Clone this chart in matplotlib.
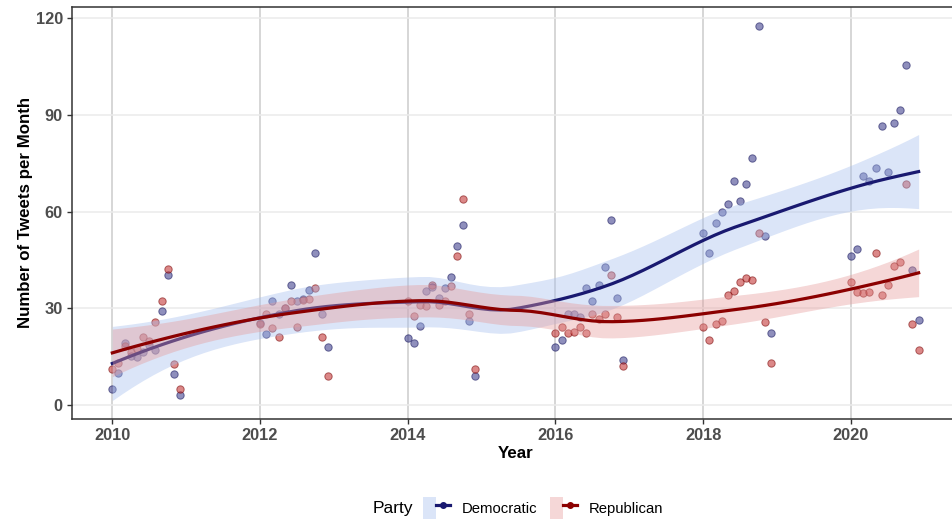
import matplotlib
matplotlib.use("Agg")
import matplotlib.pyplot as plt
from matplotlib.patches import Patch
from matplotlib.lines import Line2D
from matplotlib.legend_handler import HandlerTuple
import numpy as np

plt.rcParams['font.family'] = ['Liberation Sans', 'DejaVu Sans']

# monthly tweet counts, election years only
years = [2010, 2012, 2014, 2016, 2018, 2020]

dem_2010 = [5.1, 10.0, 19.1, 15.2, 15.0, 16.5, 18.6, 17.1, 29.1, 40.2, 9.5, 3.0]
dem_2012 = [25.5, 22.1, 32.1, 28.3, 30.0, 37.2, 32.1, 32.8, 35.7, 47.2, 28.2, 18.1]
dem_2014 = [20.7, 19.1, 24.6, 35.3, 36.7, 33.2, 36.2, 39.7, 49.2, 55.8, 26.1, 9.1]
dem_2016 = [18.1, 20.2, 28.2, 28.2, 27.3, 36.3, 32.1, 37.3, 42.7, 57.4, 33.3, 14.1]
dem_2018 = [53.3, 47.2, 56.3, 59.8, 62.3, 69.4, 63.4, 68.4, 76.5, 117.5, 52.3, 22.2]
dem_2020 = [46.3, 48.4, 70.9, 69.5, 73.4, 86.4, 72.3, 87.4, 91.5, 105.5, 41.8, 26.3]

rep_2010 = [11.2, 13.1, 18.3, 16.5, 17.3, 21.1, 19.8, 25.7, 32.2, 42.3, 12.6, 5.1]
rep_2012 = [25.1, 28.3, 23.8, 21.1, 30.2, 32.1, 24.2, 32.5, 32.8, 36.2, 21.1, 9.1]
rep_2014 = [32.2, 27.6, 31.0, 30.7, 37.2, 31.0, 32.3, 36.8, 46.2, 63.9, 28.1, 11.2]
rep_2016 = [22.2, 24.2, 22.2, 22.6, 24.2, 22.2, 28.2, 26.6, 28.2, 40.2, 27.3, 12.0]
rep_2018 = [24.2, 20.2, 25.1, 26.1, 34.2, 35.3, 38.2, 39.3, 38.8, 53.3, 25.7, 13.1]
rep_2020 = [38.1, 35.1, 34.6, 35.1, 47.2, 34.1, 37.2, 43.2, 44.2, 68.4, 25.1, 17.1]

dem = np.concatenate([dem_2010, dem_2012, dem_2014, dem_2016, dem_2018, dem_2020])
rep = np.concatenate([rep_2010, rep_2012, rep_2014, rep_2016, rep_2018, rep_2020])
x = np.concatenate([[yr + m / 12 for m in range(12)] for yr in years])


def local_rows(x, x0, span=0.75):
    # local quadratic with tricube weights -> operator rows for value and slope
    n = len(x)
    q = int(np.floor(n * span))
    d = np.abs(x - x0)
    h = np.sort(d)[q - 1]
    w = np.clip(1 - (d / h) ** 3, 0, None) ** 3
    X = np.column_stack([np.ones(n), x - x0, (x - x0) ** 2])
    XtW = X.T * w
    B = np.linalg.solve(XtW @ X, XtW)
    return B[0], B[1]


def kd_vertices(xsorted, span=0.75, cell=0.2):
    # 1-d version of loess' kd tree: split at medians until cells are small
    n = len(xsorted)
    fc = int(np.floor(n * span * cell))
    rng = xsorted[-1] - xsorted[0]
    verts = [xsorted[0] - 0.005 * rng, xsorted[-1] + 0.005 * rng]

    def split(lo, hi):
        if hi - lo + 1 <= fc:
            return
        m = (lo + hi) // 2
        verts.append((xsorted[m] + xsorted[m + 1]) / 2)
        split(lo, m)
        split(m + 1, hi)

    split(0, n - 1)
    return np.sort(verts)


def loess_operator(x, xs):
    # interpolated surface (cubic hermite between vertices), like surface="interpolate"
    v = kd_vertices(np.sort(x))
    vals, ders = zip(*[local_rows(x, v0) for v0 in v])
    vals, ders = np.array(vals), np.array(ders)
    L = np.zeros((len(xs), len(x)))
    for i, x0 in enumerate(xs):
        j = min(max(np.searchsorted(v, x0) - 1, 0), len(v) - 2)
        h = v[j + 1] - v[j]
        t = (x0 - v[j]) / h
        h00 = 2 * t ** 3 - 3 * t ** 2 + 1
        h10 = t ** 3 - 2 * t ** 2 + t
        h01 = -2 * t ** 3 + 3 * t ** 2
        h11 = t ** 3 - t ** 2
        L[i] = h00 * vals[j] + h10 * h * ders[j] + h01 * vals[j + 1] + h11 * h * ders[j + 1]
    return L


def loess_band(x, y, xs):
    L_fit = loess_operator(x, x)
    res = y - L_fit @ y
    M = np.eye(len(x)) - L_fit
    A = M.T @ M
    one_delta = np.trace(A)
    two_delta = np.trace(A @ A)
    sigma = np.sqrt(np.sum(res ** 2) / one_delta)
    df = one_delta ** 2 / two_delta
    z = 1.959964
    t = z + (z ** 3 + z) / (4 * df) + (5 * z ** 5 + 16 * z ** 3 + 3 * z) / (96 * df ** 2)
    L = loess_operator(x, xs)
    fit = L @ y
    se = sigma * np.sqrt(np.sum(L ** 2, axis=1))
    return fit, fit - t * se, fit + t * se


xs = np.linspace(x.min(), x.max(), 80)
dem_fit, dem_lo, dem_hi = loess_band(x, dem, xs)
rep_fit, rep_lo, rep_hi = loess_band(x, rep, xs)

fig = plt.figure(figsize=(9.52, 5.23), dpi=100)
ax = fig.add_axes([72 / 952, 1 - 419 / 523, 887 / 952, 412 / 523])

ax.set_xlim(2009.454, 2021.463)
ax.set_ylim(-4.34, 123.41)

for xv in [2010, 2012, 2014, 2016, 2018, 2020]:
    ax.axvline(xv, color='#d3d3d3', lw=1.3, zorder=0)
for yv in [0, 30, 60, 90, 120]:
    ax.axhline(yv, color='#ebebeb', lw=1.1, zorder=0)

ax.scatter(x, dem, s=28, facecolor=(0.20, 0.20, 0.52, 0.55),
           edgecolor=(0.10, 0.10, 0.38, 0.6), lw=0.7, zorder=2)
ax.scatter(x, rep, s=28, facecolor=(0.75, 0.15, 0.15, 0.55),
           edgecolor=(0.50, 0.05, 0.05, 0.6), lw=0.7, zorder=2)

dem_col = '#191970'
rep_col = '#8b0000'
dem_fill = '#a5beee'
rep_fill = '#e69b9b'

ax.fill_between(xs, dem_lo, dem_hi, color=dem_fill, alpha=0.4, lw=0, zorder=3)
ax.plot(xs, dem_fit, color=dem_col, lw=2.3, zorder=3)
ax.fill_between(xs, rep_lo, rep_hi, color=rep_fill, alpha=0.4, lw=0, zorder=3)
ax.plot(xs, rep_fit, color=rep_col, lw=2.3, zorder=3)

ax.set_xticks([2010, 2012, 2014, 2016, 2018, 2020])
ax.set_yticks([0, 30, 60, 90, 120])
ax.tick_params(length=3.6, width=1, color='#333333', pad=3,
               labelsize=11.8, labelcolor='#4d4d4d')
for lab in ax.get_xticklabels() + ax.get_yticklabels():
    lab.set_fontweight('bold')

for side in ['left', 'bottom', 'top']:
    ax.spines[side].set_color('#333333')
    ax.spines[side].set_linewidth(1.1)
ax.spines['right'].set_visible(False)

ax.set_xlabel('Year', fontsize=12.2, fontweight='bold', labelpad=2)
ax.set_ylabel('Number of Tweets per Month', fontsize=12.2, fontweight='bold', labelpad=1.5)

handles = [
    (Patch(facecolor=dem_fill, alpha=0.4, lw=0),
     Line2D([], [], color=dem_col, lw=2.3, marker='o', markersize=4)),
    (Patch(facecolor=rep_fill, alpha=0.4, lw=0),
     Line2D([], [], color=rep_col, lw=2.3, marker='o', markersize=4)),
]
fig.legend(handles, ['Democratic', 'Republican'], ncol=2,
           handler_map={tuple: HandlerTuple(ndivide=None, pad=0)},
           loc='center', bbox_to_anchor=(543 / 952, 1 - 508 / 523),
           frameon=False, fontsize=10.7, handlelength=1.85, handleheight=2.0,
           handletextpad=0.8, columnspacing=0.8)
fig.text(393 / 952, 1 - 508 / 523, 'Party', fontsize=12.5, ha='center', va='center')

fig.savefig('out.png', dpi=100)
